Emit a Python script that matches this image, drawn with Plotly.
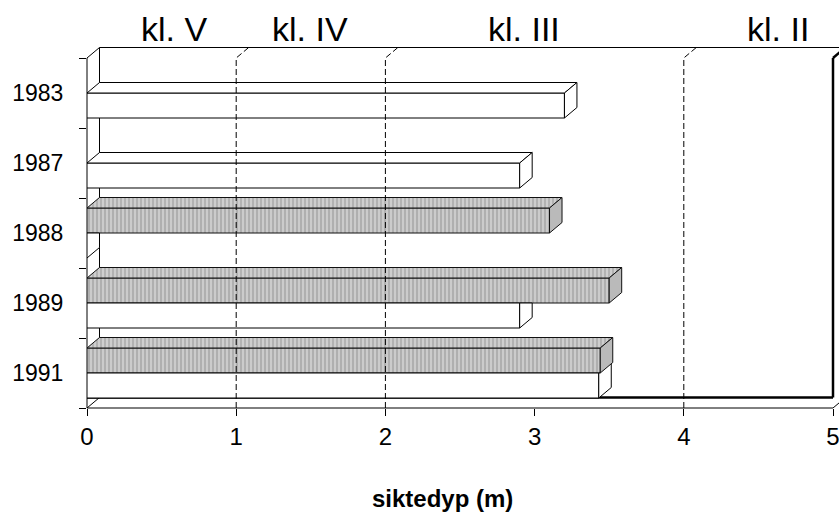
import plotly.graph_objects as go

# ---------------- data ----------------
years = ["1983", "1987", "1988", "1989", "1991"]
gray_vals = [None, None, 3.10, 3.50, 3.44]     # hatched series (upper bar)
white_vals = [3.20, 2.90, 0.0, 2.90, 3.43]     # white series (lower bar)
x_ticks = [0, 1, 2, 3, 4, 5]
class_bounds = [1, 2, 4]
class_labels = ["kl. V", "kl. IV", "kl. III", "kl. II"]
x_title = "siktedyp (m)"

# ---------------- layout constants ----------------
W, H = 839, 512
ML, MT, MB = 87, 40, 104
PX_PER_X = 149.2
PX_PER_CAT = 70.0
DEPTH_X_PX, DEPTH_Y_PX = 12.5, 10.5
BAR_PX = 25.0
FONT = "Liberation Sans, Arial, sans-serif"

dx = DEPTH_X_PX / PX_PER_X
dy = DEPTH_Y_PX / PX_PER_CAT
h = BAR_PX / PX_PER_CAT
n = len(years)
idx = list(range(n))
x_end = x_ticks[-1]
y_top, y_bot = -0.5, n - 0.5
x_range = [0, (W - ML) / PX_PER_X]
y_range = [y_bot, y_bot - (H - MT - MB) / PX_PER_CAT]

label_x = [0.586, 1.495, 2.929, 4.631]   # centres of class labels (x units)
label_y_paper = (H - MB - 28.5) / (H - MT - MB)
title_x_paper = (442 - ML) / (W - ML)
title_y_paper = -(498 - (H - MB)) / (H - MT - MB)

fig = go.Figure()

# ---------------- front faces (bars) ----------------
fig.add_trace(go.Bar(
    orientation="h", y=idx, x=gray_vals, width=h, offset=-h,
    marker=dict(color="#c0c0c0", line=dict(color="#111111", width=1),
                pattern=dict(shape="|", size=4, solidity=0.45,
                             fgcolor="#acacac", bgcolor="#cbcbcb", fillmode="replace")),
    hoverinfo="skip", showlegend=False))
fig.add_trace(go.Bar(
    orientation="h", y=idx, x=white_vals, width=h, offset=0,
    marker=dict(color="white", line=dict(color="black", width=1)),
    hoverinfo="skip", showlegend=False))


def add_poly(pts, X, Y):
    for px, py in pts:
        X.append(px)
        Y.append(py)
    X.append(pts[0][0]); Y.append(pts[0][1])
    X.append(None); Y.append(None)


wt_X, wt_Y, ws_X, ws_Y = [], [], [], []
gt_X, gt_Y, gs_X, gs_Y = [], [], [], []

for i in idx:
    v = white_vals[i]
    g = gray_vals[i]
    if v is not None:
        # top face (hidden by the gray bar in front/above when it is longer)
        if g is None or g < v:
            u0 = 0 if g is None else g
            add_poly([(u0, i), (v, i), (v + dx, i - dy), (u0 + dx, i - dy)], wt_X, wt_Y)
        # end face
        if g is None or g < v:
            pts = [(v, i), (v, i + h), (v + dx, i + h - dy), (v + dx, i - dy)]
        elif g >= v + dx:
            pts = [(v, i), (v, i + h), (v + dx, i + h - dy), (v + dx, i)]
        else:
            s0 = (g - v) / dx
            pts = [(v, i), (v, i + h), (v + dx, i + h - dy), (v + dx, i - dy),
                   (g, i - s0 * dy), (g, i)]
        add_poly(pts, ws_X, ws_Y)
    if g is not None:
        add_poly([(0, i - h), (g, i - h), (g + dx, i - h - dy), (dx, i - h - dy)], gt_X, gt_Y)
        add_poly([(g, i - h), (g, i), (g + dx, i - dy), (g + dx, i - h - dy)], gs_X, gs_Y)

common = dict(mode="lines", fill="toself", hoverinfo="skip", showlegend=False)
fig.add_trace(go.Scatter(x=wt_X, y=wt_Y, fillcolor="white",
                         line=dict(color="black", width=1), **common))
fig.add_trace(go.Scatter(x=ws_X, y=ws_Y, fillcolor="white",
                         line=dict(color="black", width=1), **common))
fig.add_trace(go.Scatter(x=gt_X, y=gt_Y, fillcolor="#c2c2c2",
                         fillpattern=dict(shape="|", size=4, solidity=0.45,
                                          fgcolor="#afafaf", bgcolor="#cecece", fillmode="replace"),
                         line=dict(color="#111111", width=1), **common))
fig.add_trace(go.Scatter(x=gs_X, y=gs_Y, fillcolor="#bababa",
                         line=dict(color="#111111", width=1), **common))

# ---------------- class boundary dashed lines ----------------
dX, dY = [], []
for b in class_bounds:
    dX += [b, b, b + dx, None]
    dY += [y_bot, y_top, y_top - dy, None]
fig.add_trace(go.Scatter(x=dX, y=dY, mode="lines", hoverinfo="skip", showlegend=False,
                         line=dict(color="black", width=1, dash="6px,3px")))

# ---------------- walls / floor ----------------
ln = dict(color="black", width=1)
shapes = [
    # left wall
    dict(type="line", xref="paper", yref="y", x0=0, x1=0, y0=y_top, y1=y_bot, line=ln),
    dict(type="line", xref="x", yref="y", x0=dx, x1=dx, y0=y_top - dy, y1=y_bot - dy, line=ln),
    dict(type="line", xref="x", yref="y", x0=0, x1=dx, y0=y_top, y1=y_top - dy, line=ln),
    dict(type="line", xref="x", yref="y", x0=0, x1=dx, y0=y_bot, y1=y_bot - dy, line=ln),
    # back wall top edge
    dict(type="line", xref="x", yref="y", x0=dx, x1=x_range[1], y0=y_top - dy, y1=y_top - dy, line=ln),
    # floor front edge and right edge
    dict(type="line", xref="x", yref="paper", x0=0, x1=x_end, y0=0, y1=0, line=ln),
    dict(type="line", xref="x", yref="y", x0=x_end, x1=x_end + dx, y0=y_bot, y1=y_bot - dy, line=ln),
    # heavy frame (floor back edge + right edge)
    dict(type="line", xref="x", yref="y", x0=0, x1=x_end, y0=y_bot - dy, y1=y_bot - dy,
         line=dict(color="black", width=2.5)),
    dict(type="line", xref="x", yref="y", x0=x_end, x1=x_end, y0=y_bot - dy, y1=y_top,
         line=dict(color="black", width=2.5)),
    dict(type="line", xref="x", yref="y", x0=x_end, x1=x_end + dx, y0=y_top, y1=y_top - dy,
         line=dict(color="black", width=2.5)),
]
for s in shapes:
    s["layer"] = "below"

annotations = []
for lab, lx in zip(class_labels, label_x):
    annotations.append(dict(text=lab, x=lx, xref="x", y=label_y_paper, yref="paper",
                            xanchor="center", yanchor="middle", showarrow=False,
                            font=dict(family=FONT, size=34, color="black")))
annotations.append(dict(text="<b>" + x_title + "</b>", x=title_x_paper, xref="paper",
                        y=title_y_paper, yref="paper", xanchor="center", yanchor="middle",
                        showarrow=False, font=dict(family=FONT, size=24, color="black")))

fig.update_layout(
    width=W, height=H,
    margin=dict(l=ML, r=0, t=MT, b=MB, pad=0, autoexpand=False),
    paper_bgcolor="white", plot_bgcolor="white",
    barmode="overlay",
    showlegend=False,
    shapes=shapes,
    annotations=annotations,
    font=dict(family=FONT, color="black"),
    xaxis=dict(range=x_range, tickmode="array", tickvals=x_ticks,
               ticktext=[str(t) for t in x_ticks],
               ticks="outside", ticklen=7, tickwidth=1, tickcolor="black",
               tickfont=dict(family=FONT, size=24, color="black"),
               ticklabeloverflow="allow",
               showgrid=False, zeroline=False, showline=False, fixedrange=True),
    yaxis=dict(range=y_range, tickmode="array", tickvals=idx, ticktext=years,
               ticks="outside", ticklen=7, tickcolor="rgba(0,0,0,0)",
               tickfont=dict(family=FONT, size=23, color="black"),
               ticklabelstandoff=11,
               minor=dict(tickmode="array", tickvals=[k - 0.5 for k in range(n + 1)],
                          ticks="outside", ticklen=7, tickwidth=1, tickcolor="black",
                          showgrid=False),
               showgrid=False, zeroline=False, showline=False, fixedrange=True),
)

fig.write_html("out.html", config={"displayModeBar": False},
               post_script="document.body.style.margin='0';document.body.style.overflow='hidden';")
